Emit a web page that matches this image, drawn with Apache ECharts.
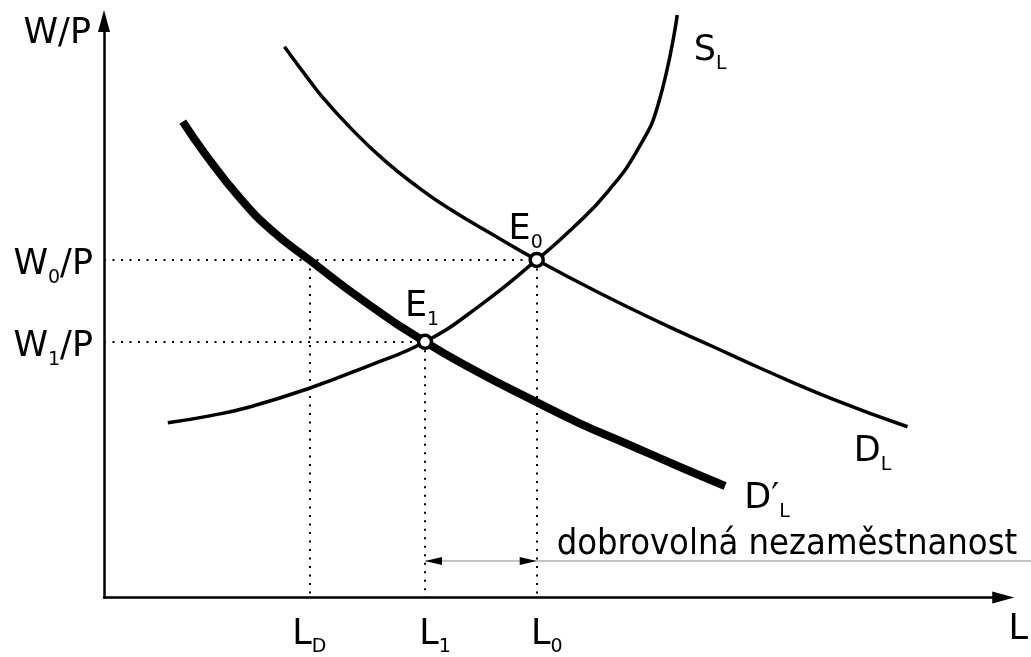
<!DOCTYPE html>
<html>
<head>
<meta charset="utf-8">
<script src="https://cdn.jsdelivr.net/npm/echarts@6/dist/echarts.min.js"></script>
<style>
  html, body { margin: 0; padding: 0; background: #fff; overflow: hidden; }
  #chart { width: 1031px; height: 657px; }
</style>
</head>
<body>
<div id="chart"></div>
<script>
// curve points, [L, W/P] in axis units
var supplyL = [[64, 177], [106, 184], [146, 193], [206, 212], [266, 235], [322, 259], [376, 295], [434, 342],
  [471, 375], [506, 412], [536, 455], [556, 500], [575, 590]];
var demandL = [[181, 558], [200, 532], [219, 507], [246, 477], [281, 443], [316, 415], [346, 394], [391, 367],
  [434, 342], [496, 309], [559, 278], [609, 255], [659, 232], [731, 201], [806, 173]];
var demandL2 = [[79, 482], [101, 450], [136, 405], [168, 372], [206, 342], [261, 300], [322, 259], [374, 229],
  [426, 202], [476, 177], [526, 155], [576, 133], [623, 113]];

// equilibria and employment levels
var e0 = [434, 342];
var e1 = [322, 259];
var lD = 206;
var unemployY = 37;

// tick labels: [main, subscript, rest]
var yTickValues = [342, 259];
var yTickLabels = [['W', '0', '/P'], ['W', '1', '/P']];
var xTickValues = [206, 322, 434];
var xTickLabels = [['L', 'D'], ['L', '1'], ['L', '0']];
var unemployText = 'dobrovolná nezaměstnanost';

var FONT = "'DejaVu Sans'";
var FONT_NARROW = "'DejaVu Sans Condensed', 'DejaVu Sans'";
var richText = {
  m: { fontFamily: FONT, fontSize: 35, color: '#000', lineHeight: 44 },
  mp: { fontFamily: FONT, fontSize: 35, color: '#000', lineHeight: 44, padding: [0, 0, 0, 20] },
  s: { fontFamily: FONT, fontSize: 19, color: '#000', lineHeight: 18, padding: [26, 0, 0, 0] }
};

function sub(parts, key) {
  var s = '{' + (key || 'm') + '|' + parts[0] + '}{s|' + parts[1] + '}';
  if (parts[2]) s += '{m|' + parts[2] + '}';
  return s;
}

var chart = echarts.init(document.getElementById('chart'));

var curveStyle = function (w) {
  return { color: '#000', width: w, cap: 'butt' };
};
var dotted = { color: '#000', width: 2, type: [2, 6.5] };
var plainLabel = { color: '#000', textBorderWidth: 0, textBorderColor: 'transparent', textShadowBlur: 0 };

chart.setOption({
  animation: false,
  backgroundColor: '#fff',
  grid: { left: 104, right: 25, top: 21, bottom: 52 },
  xAxis: {
    type: 'value', min: 0, max: 902,
    name: 'L', nameLocation: 'end', nameGap: 15,
    nameTextStyle: { fontFamily: FONT, fontSize: 35, color: '#000', align: 'center', verticalAlign: 'top', padding: [15, 0, 0, 0] },
    axisLine: { show: true, symbol: ['none', 'triangle'], symbolSize: [12, 22], lineStyle: { color: '#000', width: 2.5 } },
    axisTick: { show: false },
    splitLine: { show: false },
    axisLabel: {
      customValues: xTickValues,
      margin: 15,
      formatter: function (v) {
        var i = xTickValues.indexOf(v);
        return sub(xTickLabels[i], i === 0 ? 'm' : 'mp');
      },
      rich: richText
    }
  },
  yAxis: {
    type: 'value', min: 0, max: 584,
    name: 'W/P', nameLocation: 'end', nameGap: -13,
    nameTextStyle: { fontFamily: FONT, fontSize: 35, color: '#000', align: 'right', verticalAlign: 'middle', padding: [0, 13, 0, 0] },
    axisLine: { show: true, symbol: ['none', 'triangle'], symbolSize: [12, 22], lineStyle: { color: '#000', width: 2.5 } },
    axisTick: { show: false },
    splitLine: { show: false },
    axisLabel: {
      customValues: yTickValues,
      margin: 11,
      padding: [10, 0, 0, 0],
      formatter: function (v) { return sub(yTickLabels[yTickValues.indexOf(v)]); },
      rich: richText
    }
  },
  series: [
    {
      name: 'guides', type: 'line', data: [], clip: false, silent: true,
      markLine: {
        silent: true, symbol: 'none', animation: false,
        label: { show: false },
        lineStyle: dotted,
        data: [
          [{ coord: [0, e0[1]] }, { coord: e0 }],
          [{ coord: [0, e1[1]] }, { coord: e1 }],
          [{ coord: [lD, e0[1]] }, { coord: [lD, 0] }],
          [{ coord: e1 }, { coord: [e1[0], 0] }],
          [{ coord: e0 }, { coord: [e0[0], 0] }]
        ]
      }
    },
    {
      name: 'unemployment arrows', type: 'scatter', clip: false, silent: true, symbol: 'triangle',
      symbolSize: [8, 17], z: 4,
      itemStyle: { color: '#000', opacity: 1 },
      data: [
        { value: [e1[0], unemployY], symbolRotate: 90, symbolOffset: [8.5, 0] },
        { value: [e0[0], unemployY], symbolRotate: -90, symbolOffset: [-8.5, 0] }
      ]
    },
    {
      name: 'unemployment text', type: 'scatter', clip: false, silent: true, symbolSize: 0,
      itemStyle: { opacity: 1 },
      data: [{ value: [e0[0], unemployY] }],
      label: Object.assign({
        show: true, position: 'inside', align: 'left', verticalAlign: 'bottom', offset: [20, 2],
        formatter: unemployText, fontFamily: FONT_NARROW, fontSize: 36
      }, plainLabel)
    },
    {
      name: 'SL', type: 'line', data: supplyL, smooth: 0.5, symbol: 'none', clip: false,
      lineStyle: curveStyle(3.5)
    },
    {
      name: 'DL', type: 'line', data: demandL, smooth: 0.5, symbol: 'none', clip: false,
      lineStyle: curveStyle(3.5)
    },
    {
      name: "D'L", type: 'line', data: demandL2, smooth: 0.5, symbol: 'none', clip: false,
      lineStyle: curveStyle(8)
    },
    {
      name: 'curve labels', type: 'scatter', symbolSize: 0, clip: false, silent: true,
      itemStyle: { opacity: 1 },
      data: [
        { value: supplyL[supplyL.length - 1], label: { formatter: sub(['S', 'L']), offset: [33, 36] } },
        { value: demandL[demandL.length - 1], label: { formatter: sub(['D', 'L']), offset: [-35, 25] } },
        { value: demandL2[demandL2.length - 1], label: { formatter: sub(['D′', 'L']), offset: [42, 13] } }
      ],
      label: Object.assign({ show: true, position: 'inside', rich: richText }, plainLabel)
    },
    {
      name: 'equilibria', type: 'scatter', symbol: 'circle', symbolSize: 13, clip: false, z: 5, silent: true,
      itemStyle: { color: '#fff', borderColor: '#000', borderWidth: 3.5, opacity: 1 },
      data: [
        { value: e0, label: { formatter: sub(['E', '0']), offset: [-11, -30] } },
        { value: e1, label: { formatter: sub(['E', '1']), offset: [-3, -35] } }
      ],
      label: Object.assign({ show: true, position: 'inside', rich: richText }, plainLabel)
    }
  ]
});

// thin rule under the text, from L1 to the right edge of the picture
var ruleStart = chart.convertToPixel({ gridIndex: 0 }, [e1[0], unemployY]);
chart.setOption({
  graphic: [{
    type: 'line', z: 3, silent: true,
    shape: { x1: ruleStart[0], y1: ruleStart[1], x2: chart.getWidth(), y2: ruleStart[1] },
    style: { stroke: '#8c8c8c', lineWidth: 1.2 }
  }]
});
</script>
</body>
</html>
